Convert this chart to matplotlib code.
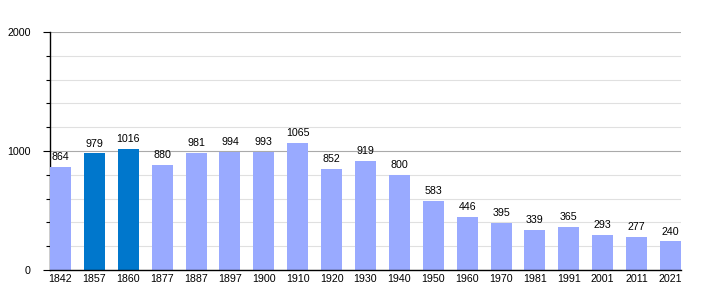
import matplotlib.pyplot as plt
from matplotlib.ticker import MultipleLocator

plt.rcParams['font.family'] = ['Liberation Sans', 'DejaVu Sans']

years = ['1842', '1857', '1860', '1877', '1887', '1897', '1900', '1910', '1920', '1930',
         '1940', '1950', '1960', '1970', '1981', '1991', '2001', '2011', '2021']
population = [864, 979, 1016, 880, 981, 994, 993, 1065, 852, 919,
              800, 583, 446, 395, 339, 365, 293, 277, 240]
highlight = ['1857', '1860']

light = '#99aaff'
dark = '#0077cc'
colors = [dark if y in highlight else light for y in years]

fig = plt.figure(figsize=(7.1, 3.0), dpi=100)
ax = fig.add_axes([50 / 710, 30 / 300, 631 / 710, 238 / 300])

x = range(len(years))
w = 0.62
ax.bar(x, population, width=w, color=colors, zorder=3)
for i, v in enumerate(population):
    ax.annotate(str(v), (i, v), xytext=(0, 3.5), textcoords='offset points',
                ha='center', va='bottom', fontsize=7.7, zorder=4)

ax.set_ylim(0, 2000)
ax.set_xlim(-w / 2, len(years) - 1 + w / 2)
ax.set_xticks(list(x))
ax.set_xticklabels(years, fontsize=7.7)
ax.tick_params(axis='x', length=0, pad=3)
ax.set_yticks([0, 1000, 2000])
ax.set_yticklabels(['0', '1000', '2000'], fontsize=7.7)
ax.yaxis.set_minor_locator(MultipleLocator(200))
ax.tick_params(axis='y', which='major', length=5, width=0.8, pad=9)
ax.tick_params(axis='y', which='minor', length=3, width=0.8)

ax.grid(axis='y', which='minor', color='#e0e0e0', linewidth=0.8, zorder=0)
ax.grid(axis='y', which='major', color='#aaaaaa', linewidth=0.8, zorder=1)

for s in ['top', 'right']:
    ax.spines[s].set_visible(False)
ax.spines['left'].set_linewidth(1)
ax.spines['bottom'].set_linewidth(1)
ax.spines['bottom'].set_zorder(5)

fig.savefig('out.png', dpi=100)
